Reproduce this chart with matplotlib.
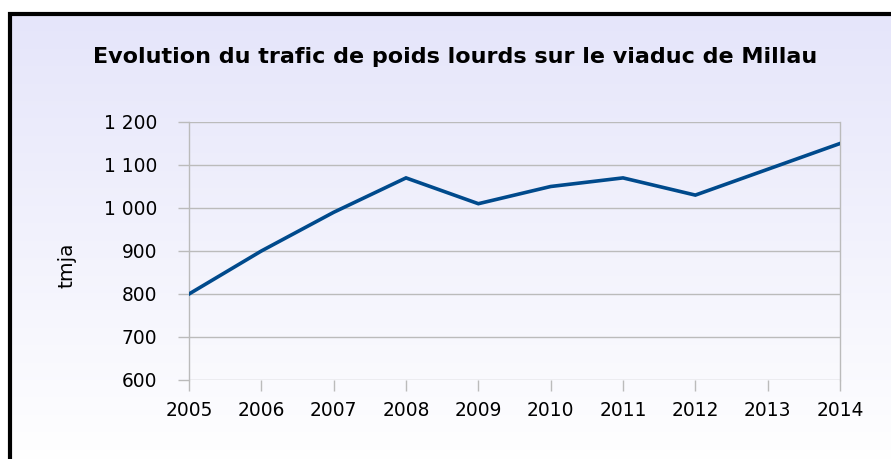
import numpy as np
from matplotlib import pyplot as plt
from matplotlib.patches import Rectangle

# Data
years = [2005, 2006, 2007, 2008, 2009, 2010, 2011, 2012, 2013, 2014]
trafic = [800, 900, 990, 1070, 1010, 1050, 1070, 1030, 1090, 1150]
yticks = [600, 700, 800, 900, 1000, 1100, 1200]
ylabels = ["600", "700", "800", "900", "1 000", "1 100", "1 200"]

W, H = 891, 459
fig = plt.figure(figsize=(W / 100, H / 100), dpi=100)

# gradient background inside the frame
bg = fig.add_axes([0, 0, 1, 1], zorder=0)
grad = np.linspace(0, 1, 256).reshape(-1, 1)
top = np.array([229, 229, 250]) / 255.0
bot = np.array([255, 255, 255]) / 255.0
img = top[None, None, :] * (1 - grad[:, :, None]) + bot[None, None, :] * grad[:, :, None]
x0 = 9.5 / W
y1 = 1 - 13.5 / H
bg.imshow(img, extent=[x0, 1.02, -0.02, y1], aspect="auto", origin="upper")
bg.add_patch(Rectangle((x0, -0.05), 1.1, y1 + 0.05, fill=False, edgecolor="black", linewidth=3))
bg.set_xlim(0, 1)
bg.set_ylim(0, 1)
bg.axis("off")

ax = fig.add_axes([189 / W, 1 - 380 / H, (840 - 189) / W, (380 - 122) / H], zorder=1)
ax.patch.set_alpha(0)
ax.plot(years, trafic, color="#004a8c", linewidth=2.6, solid_joinstyle="miter", zorder=3)

ax.set_xlim(2005, 2014)
ax.set_ylim(600, 1200)
ax.set_xticks(years)
ax.set_yticks(yticks)
ax.set_yticklabels(ylabels)
ax.grid(axis="y", color="#bbbbbb", linewidth=1)
for s in ["top", "bottom"]:
    ax.spines[s].set_visible(False)
for s in ["left", "right"]:
    ax.spines[s].set_color("#bbbbbb")
    ax.spines[s].set_linewidth(1)
ax.tick_params(axis="both", colors="#bbbbbb", labelcolor="black", labelsize=13.4, length=8, width=1)
ax.tick_params(axis="x", pad=7)
ax.tick_params(axis="y", pad=15)
ax.set_ylabel("tmja", fontsize=14.5)
ax.yaxis.set_label_coords(-0.173, 0.446)

fig.text(455 / W, 1 - 57 / H, "Evolution du trafic de poids lourds sur le viaduc de Millau",
         ha="center", va="center", fontsize=16, fontweight="bold")

fig.savefig("out.png", dpi=100)
